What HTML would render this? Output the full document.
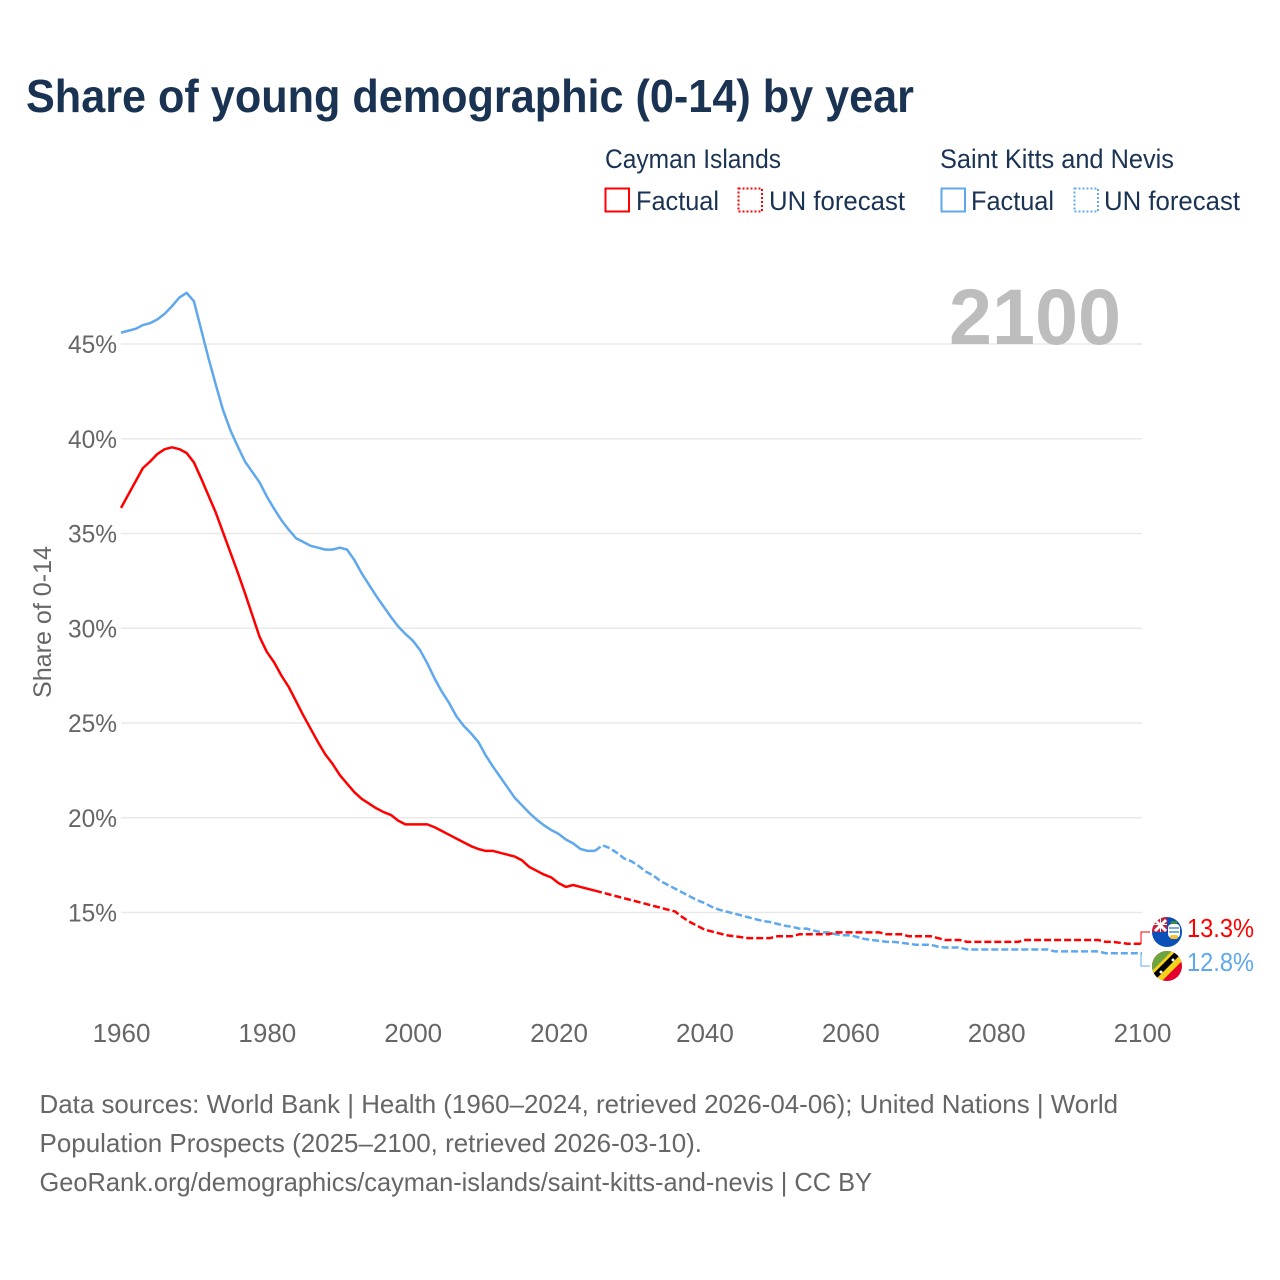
<!DOCTYPE html>
<html lang="en">
<head>
<meta charset="utf-8">
<title>Share of young demographic (0-14) by year</title>
<style>
html,body{margin:0;padding:0;background:#fff;}
svg{display:block;font-family:"Liberation Sans",sans-serif;}
</style>
</head>
<body>
<svg id="chart" width="1280" height="1280" viewBox="0 0 1280 1280" xmlns="http://www.w3.org/2000/svg">
  <defs>
    <clipPath id="clip-ky"><circle cx="1167" cy="932" r="15"/></clipPath>
    <clipPath id="clip-kn"><circle cx="1167" cy="966" r="15"/></clipPath>
  </defs>
  <rect width="1280" height="1280" fill="#fff"/>
  <text x="26" y="112" font-size="46" font-weight="700" fill="#1a3353" textLength="888" lengthAdjust="spacingAndGlyphs">Share of young demographic (0-14) by year</text>

  <g font-size="27" fill="#1a3353">
    <text x="605" y="168" textLength="176" lengthAdjust="spacingAndGlyphs">Cayman Islands</text>
    <text x="940" y="168" textLength="234" lengthAdjust="spacingAndGlyphs">Saint Kitts and Nevis</text>
    <rect x="605.500" y="188.500" width="23.500" height="23" fill="none" stroke="#ff0000" stroke-width="2"/>
    <text x="636" y="210" textLength="83" lengthAdjust="spacingAndGlyphs">Factual</text>
    <rect x="738.500" y="188.500" width="23.500" height="23" fill="none" stroke="#ff0000" stroke-width="2" stroke-dasharray="2 2"/>
    <text x="769" y="210" textLength="136" lengthAdjust="spacingAndGlyphs">UN forecast</text>
    <rect x="941.500" y="188.500" width="23.500" height="23" fill="none" stroke="#5fa8ee" stroke-width="2"/>
    <text x="971" y="210" textLength="83" lengthAdjust="spacingAndGlyphs">Factual</text>
    <rect x="1074.500" y="188.500" width="23.500" height="23" fill="none" stroke="#5fa8ee" stroke-width="2" stroke-dasharray="2 2"/>
    <text x="1104" y="210" textLength="136" lengthAdjust="spacingAndGlyphs">UN forecast</text>
  </g>

  <g id="grid"></g>
  <text x="949" y="344" font-size="79" font-weight="700" fill="#bdbdbd" textLength="172" lengthAdjust="spacingAndGlyphs">2100</text>
  <g id="y-axis"></g>
  <g id="x-axis"></g>
  <text transform="translate(51 622) rotate(-90)" text-anchor="middle" font-size="25" fill="#666" textLength="152" lengthAdjust="spacingAndGlyphs">Share of 0-14</text>
  <g id="series"></g>

  <path id="connector-ky" d="M1141 944V932H1150" fill="none" stroke="#ff0000" stroke-width="1"/>
  <path id="connector-kn" d="M1141 953V966H1150" fill="none" stroke="#5fa8ee" stroke-width="1"/>

  <g clip-path="url(#clip-ky)">
    <rect x="1152" y="917" width="30" height="30" fill="#0b50b8"/>
    <rect x="1152" y="917" width="15" height="15" fill="#c8203a"/>
    <path d="M1155 920L1166 931M1166 920L1155 931" stroke="#fff" stroke-width="3"/>
    <path d="M1160.500 917V932M1152 924.500H1167" stroke="#fff" stroke-width="1"/>
    <rect x="1168" y="924" width="12" height="14" rx="4" fill="#fff"/>
    <path d="M1169 928h10M1169 932h10" stroke="#4c8fd6" stroke-width="1.500"/>
    <rect x="1170" y="935" width="8" height="4" rx="2" fill="#f2c230"/>
    <rect x="1171" y="921" width="6" height="3" fill="#3f8a3f"/>
  </g>
  <g clip-path="url(#clip-kn)">
    <rect x="1152" y="951" width="30" height="30" fill="#e4002b"/>
    <path d="M1152 951H1182L1152 981Z" fill="#6ea43f"/>
    <path d="M1151 972L1173 950L1183 960L1161 982Z" fill="#f6d21b"/>
    <path d="M1152 975L1176 951L1180 955L1156 979Z" fill="#000"/>
    <circle cx="1161" cy="972" r="1.500" fill="#fff"/>
    <circle cx="1173" cy="960" r="1.500" fill="#fff"/>
  </g>

  <g id="end-labels"></g>

  <g font-size="26" fill="#666">
    <text x="39.500" y="1113" textLength="1078.500" lengthAdjust="spacingAndGlyphs">Data sources: World Bank | Health (1960–2024, retrieved 2026-04-06); United Nations | World</text>
    <text x="39.500" y="1152" textLength="662.500" lengthAdjust="spacingAndGlyphs">Population Prospects (2025–2100, retrieved 2026-03-10).</text>
    <text x="39.500" y="1191" textLength="832.500" lengthAdjust="spacingAndGlyphs">GeoRank.org/demographics/cayman-islands/saint-kitts-and-nevis | CC BY</text>
  </g>
</svg>
<script>
const yTickValues = [15, 20, 25, 30, 35, 40, 45];
const xTickValues = [1960, 1980, 2000, 2020, 2040, 2060, 2080, 2100];
const factualStartYear = 1960;
const forecastStartYear = 2025;

// Cayman Islands, share of 0-14 (%), 1960..2025
const caymanFactual = [
  36.35,37.05,37.75,38.45,38.8,39.2,39.45,39.55,39.45,39.25,
  38.75,37.9,37.0,36.1,35.05,34.0,32.95,31.85,30.7,29.55,
  28.75,28.2,27.5,26.9,26.15,25.4,24.7,24.0,23.35,22.85,
  22.25,21.8,21.35,21.0,20.75,20.5,20.3,20.15,19.85,19.65,
  19.65,19.65,19.65,19.5,19.3,19.1,18.9,18.7,18.5,18.35,
  18.25,18.25,18.15,18.05,17.95,17.75,17.4,17.2,17.0,16.85,
  16.55,16.35,16.45,16.35,16.25,16.15
];
// Saint Kitts and Nevis, share of 0-14 (%), 1960..2025
const kittsFactual = [
  45.6,45.7,45.8,46.0,46.1,46.3,46.6,47.0,47.45,47.7,
  47.25,45.75,44.25,42.85,41.5,40.45,39.6,38.8,38.25,37.7,
  36.95,36.3,35.7,35.2,34.75,34.55,34.35,34.25,34.15,34.15,
  34.25,34.15,33.6,32.9,32.3,31.7,31.15,30.6,30.1,29.7,
  29.35,28.85,28.15,27.35,26.65,26.05,25.35,24.85,24.45,24.0,
  23.3,22.7,22.15,21.6,21.05,20.65,20.25,19.9,19.6,19.35,
  19.15,18.85,18.65,18.35,18.25,18.25
];
// Cayman Islands UN forecast (%), 2025..2100
const caymanForecast = [
  16.15,16.05,15.95,15.85,15.75,15.65,15.55,15.45,15.35,15.25,
  15.15,15.05,14.75,14.5,14.3,14.1,14.0,13.9,13.8,13.75,
  13.7,13.65,13.65,13.65,13.65,13.75,13.75,13.75,13.85,13.85,
  13.85,13.85,13.85,13.95,13.95,13.95,13.95,13.95,13.95,13.95,
  13.85,13.85,13.85,13.75,13.75,13.75,13.75,13.65,13.55,13.55,
  13.55,13.45,13.45,13.45,13.45,13.45,13.45,13.45,13.45,13.55,
  13.55,13.55,13.55,13.55,13.55,13.55,13.55,13.55,13.55,13.55,
  13.45,13.45,13.4,13.35,13.35,13.35
];
// Saint Kitts and Nevis UN forecast (%), 2025..2100
const kittsForecast = [
  18.25,18.55,18.4,18.15,17.85,17.7,17.45,17.15,16.95,16.65,
  16.45,16.25,16.05,15.85,15.65,15.5,15.3,15.15,15.05,14.95,
  14.85,14.75,14.65,14.55,14.5,14.4,14.3,14.25,14.15,14.15,
  14.05,13.95,13.95,13.85,13.8,13.8,13.7,13.6,13.55,13.5,
  13.45,13.45,13.4,13.35,13.3,13.3,13.3,13.2,13.15,13.15,
  13.15,13.05,13.05,13.05,13.05,13.05,13.05,13.05,13.05,13.05,
  13.05,13.05,13.05,12.95,12.95,12.95,12.95,12.95,12.95,12.95,
  12.85,12.85,12.85,12.85,12.85,12.85
];
const endLabelTexts = ["13.3%", "12.8%"];

const NS = "http://www.w3.org/2000/svg";
function xScale(year) { return 121 + (year - 1960) * (1142 - 121) / 140; }
function yScale(value) { return 912.5 - (value - 15) * 18.95; }
function make(tag, parent, attrs) {
  const el = document.createElementNS(NS, tag);
  for (const k in attrs) el.setAttribute(k, attrs[k]);
  parent.appendChild(el);
  return el;
}
const grid = document.getElementById("grid");
const yAxis = document.getElementById("y-axis");
const xAxis = document.getElementById("x-axis");
const seriesGroup = document.getElementById("series");
const endLabels = document.getElementById("end-labels");

yTickValues.forEach(function (v) {
  const line = make("line", grid, {x1: 121, x2: 1142, y1: yScale(v), y2: yScale(v), stroke: "#e9e9e9", "stroke-width": 1.5});
  
  
  const label = make("text", yAxis, {x: 68, y: yScale(v) + 9, "font-size": 25, fill: "#666", textLength: 49, lengthAdjust: "spacingAndGlyphs"});
  label.textContent = v + "%";
  
  
});
xTickValues.forEach(function (v) {
  const label = make("text", xAxis, {x: xScale(v) + 0.5, y: 1042, "text-anchor": "middle", "font-size": 26, fill: "#666"});
  label.textContent = String(v);
  
  
});
function linePath(values, startYear) {
  return values.map(function (v, i) {
    return (i ? "L" : "M") + xScale(startYear + i).toFixed(2) + " " + yScale(v).toFixed(2);
  }).join("");
}
function drawLine(values, startYear, color, dashed) {
  const attrs = {d: linePath(values, startYear), fill: "none", stroke: color, "stroke-width": 2.5, "stroke-linejoin": "round"};
  if (dashed) attrs["stroke-dasharray"] = "7 3";
  return make("path", seriesGroup, attrs);
}
const lineKittsFactual = drawLine(kittsFactual, factualStartYear, "#5fa8ee", false);


const lineKittsForecast = drawLine(kittsForecast, forecastStartYear, "#5fa8ee", true);


const lineCaymanFactual = drawLine(caymanFactual, factualStartYear, "#ff0000", false);


const lineCaymanForecast = drawLine(caymanForecast, forecastStartYear, "#ff0000", true);



const labelCayman = make("text", endLabels, {x: 1187, y: 937, "font-size": 25.5, fill: "#ff0000", textLength: 67, lengthAdjust: "spacingAndGlyphs"});
labelCayman.textContent = endLabelTexts[0];


const labelKitts = make("text", endLabels, {x: 1187, y: 971, "font-size": 25.5, fill: "#5fa8ee", textLength: 67, lengthAdjust: "spacingAndGlyphs"});
labelKitts.textContent = endLabelTexts[1];


</script>
</body>
</html>
